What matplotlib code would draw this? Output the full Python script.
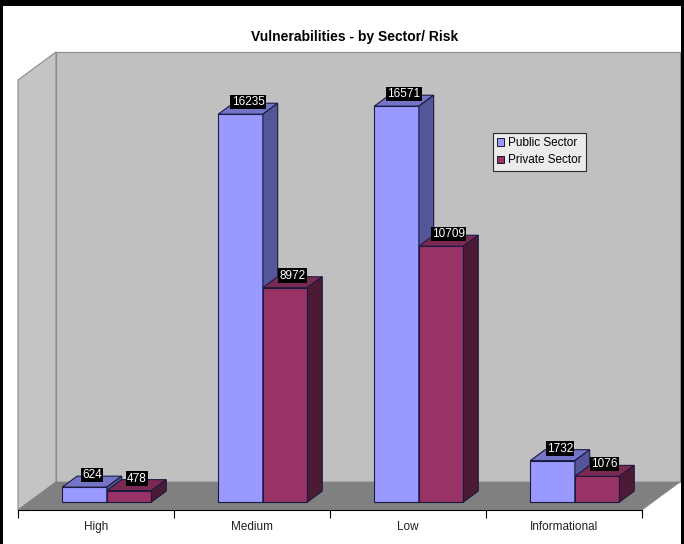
import matplotlib
matplotlib.use("Agg")
import matplotlib.pyplot as plt
from matplotlib.patches import Polygon, Rectangle, Patch

categories = ["High", "Medium", "Low", "Informational"]
public_sector = [624, 16235, 16571, 1732]
private_sector = [478, 8972, 10709, 1076]
series_names = ["Public Sector", "Private Sector"]
title = "Vulnerabilities - by Sector/ Risk"
y_max = 18000

FONT = ["Liberation Sans", "DejaVu Sans"]
plt.rcParams["font.family"] = FONT

W, H = 684, 544
fig = plt.figure(figsize=(W / 100, H / 100), dpi=100)
fig.patch.set_facecolor("white")

# front plane of the 3-D box in pixels
X0, X1 = 18, 642
Y0, Y1 = 510, 80
ax = fig.add_axes([X0 / W, 1 - Y0 / H, (X1 - X0) / W, (Y0 - Y1) / H])
ax.set_xlim(0, len(categories))
ax.set_ylim(0, y_max)
ax.patch.set_alpha(0)

px_per_x = (X1 - X0) / len(categories)
px_per_y = (Y0 - Y1) / y_max
DX = 38 / px_per_x        # full depth offset in data units
DY = 28 / px_per_y

n = len(categories)
# back wall
ax.add_patch(Polygon([(DX, DY), (n + DX, DY), (n + DX, y_max + DY), (DX, y_max + DY)],
                     closed=True, facecolor="#c0c0c0", edgecolor="#8a8a8a", lw=0.8,
                     clip_on=False, zorder=0))
# left wall
ax.add_patch(Polygon([(0, 0), (DX, DY), (DX, y_max + DY), (0, y_max)],
                     closed=True, facecolor="#c4c4c4", edgecolor="#8a8a8a", lw=0.8,
                     clip_on=False, zorder=0.5))
# floor
ax.add_patch(Polygon([(0, 0), (n, 0), (n + DX, DY), (DX, DY)],
                     closed=True, facecolor="#808080", edgecolor="#808080", lw=0.5,
                     clip_on=False, zorder=0.6))

bw = 1 / 3.5
d0, d1 = 0.286, 0.676
ox, oy = d0 * DX, d0 * DY
ddx, ddy = (d1 - d0) * DX, (d1 - d0) * DY

front_cols = ["#9999ff", "#993366"]
top_cols = ["#7474c8", "#7a2952"]
side_cols = ["#555599", "#4d1a33"]

for s, vals in enumerate([public_sector, private_sector]):
    xs = [i + (1 - 2 * bw) / 2 + s * bw + ox for i in range(n)]
    for i, v in enumerate(vals):
        xl = xs[i]
        xr = xl + bw
        z = 2 + i * 2 + s * 0.5
        ax.bar(xl, v, width=bw, bottom=oy, align="edge", color=front_cols[s],
               edgecolor="#1a1a40", lw=0.8, clip_on=False, zorder=z)
        top = v + oy
        ax.add_patch(Polygon([(xl, top), (xr, top), (xr + ddx, top + ddy), (xl + ddx, top + ddy)],
                             closed=True, facecolor=top_cols[s], edgecolor="#1a1a40", lw=0.8,
                             clip_on=False, zorder=z))
        ax.add_patch(Polygon([(xr, oy), (xr + ddx, oy + ddy), (xr + ddx, top + ddy), (xr, top)],
                             closed=True, facecolor=side_cols[s], edgecolor="#1a1a40", lw=0.8,
                             clip_on=False, zorder=z))
        ax.text(xl + bw / 2 + ddx / 2, top + 12 / px_per_y, str(v), ha="center", va="center",
                color="white", fontsize=8.5, zorder=20, clip_on=False,
                bbox=dict(boxstyle="square,pad=0.1", facecolor="black", edgecolor="none"))

# category axis
for sp in ["top", "right", "left"]:
    ax.spines[sp].set_visible(False)
ax.spines["bottom"].set_color("black")
ax.spines["bottom"].set_linewidth(0.8)
ax.spines["bottom"].set_zorder(30)
ax.set_yticks([])
ax.set_xticks(range(n + 1))
ax.set_xticklabels([])
ax.tick_params(axis="x", which="major", length=6, width=0.8, color="black")
ax.set_xticks([i + 0.5 for i in range(n)], minor=True)
ax.set_xticklabels(categories, minor=True, fontsize=8.5, color="#222222")
ax.tick_params(axis="x", which="minor", length=0, pad=8)

# title
fig.text(355 / W, 1 - 37 / H, title, ha="center", va="center", fontsize=10,
         fontweight="bold", color="black")

# legend
handles = [Patch(facecolor=front_cols[k], edgecolor="black", lw=0.6) for k in range(2)]
leg = fig.legend(handles, series_names, loc="upper left",
                 bbox_to_anchor=(493 / W, 1 - 133 / H), frameon=True, fancybox=False,
                 fontsize=8.5, handlelength=0.6, handleheight=0.6, handletextpad=0.3,
                 borderpad=0.35, labelspacing=0.45, borderaxespad=0)
leg.get_frame().set_edgecolor("black")
leg.get_frame().set_linewidth(0.8)
leg.get_frame().set_facecolor("#f6f6f6")
leg.set_zorder(40)

# outer black border
fig.patches.append(Rectangle((0, 1 - 6 / H), 1, 6 / H, transform=fig.transFigure,
                             facecolor="black", edgecolor="none", zorder=50))
fig.patches.append(Rectangle((0, 0), 3 / W, 1, transform=fig.transFigure,
                             facecolor="black", edgecolor="none", zorder=50))
fig.patches.append(Rectangle((1 - 3 / W, 0), 3 / W, 1, transform=fig.transFigure,
                             facecolor="black", edgecolor="none", zorder=50))

fig.savefig("out.png", dpi=100)
